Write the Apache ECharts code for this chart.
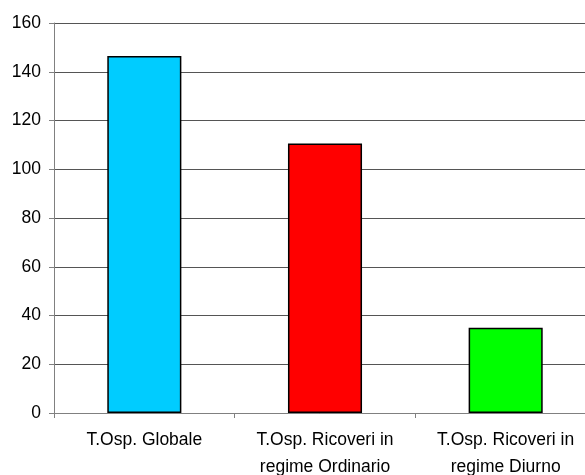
<!DOCTYPE html>
<html>
<head>
<meta charset="utf-8">
<script src="https://cdn.jsdelivr.net/npm/echarts@6/dist/echarts.min.js"></script>
<style>
  html, body { margin: 0; padding: 0; background: #fff; }
  #chart { width: 585px; height: 475px; }
</style>
</head>
<body>
<div id="chart"></div>
<script>
// Tempo di ospedalizzazione per tipo di ricovero
const categories = ['T.Osp. Globale', 'T.Osp. Ricoveri in\nregime Ordinario', 'T.Osp. Ricoveri in\nregime Diurno'];
const values = [146.5, 110.6, 35];
const barColors = ['#00CCFF', '#FF0000', '#00FF00'];

const chart = echarts.init(document.getElementById('chart'), null, { renderer: 'canvas' });
chart.setOption({
  animation: false,
  backgroundColor: '#ffffff',
  grid: {
    left: 54, width: 542, top: 23, height: 390,
    containLabel: false,
    outerBoundsMode: 'none'
  },
  xAxis: {
    type: 'category',
    data: categories,
    axisLine: { lineStyle: { color: '#808080', width: 1 } },
    axisTick: { show: true, length: 5, lineStyle: { color: '#808080' } },
    axisLabel: {
      color: '#000',
      fontFamily: 'Liberation Sans, Arial, sans-serif',
      fontSize: 17.5,
      lineHeight: 26.5,
      margin: 14,
      interval: 0,
      hideOverlap: false
    }
  },
  yAxis: {
    type: 'value',
    min: 0,
    max: 160,
    interval: 20,
    axisLine: { show: true, lineStyle: { color: '#808080', width: 1 } },
    axisTick: { show: true, length: 5, lineStyle: { color: '#808080' } },
    axisLabel: {
      color: '#000',
      fontFamily: 'Liberation Sans, Arial, sans-serif',
      fontSize: 17.5,
      margin: 13
    },
    splitLine: { show: true, lineStyle: { color: '#555555', width: 1 } }
  },
  series: [{
    type: 'bar',
    data: values.map((v, i) => ({
      value: v,
      itemStyle: { color: barColors[i] }
    })),
    barWidth: '41%',
    itemStyle: { borderColor: '#000', borderWidth: 1.5 }
  }]
});
</script>
</body>
</html>
